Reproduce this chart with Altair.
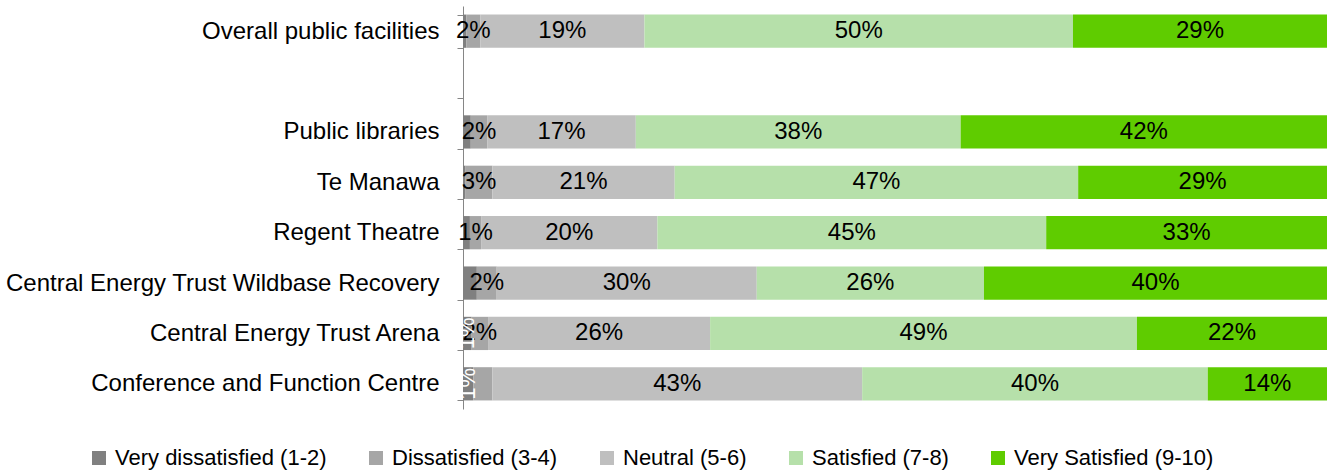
import altair as alt
import pandas as pd

categories = [
    "Overall public facilities",
    " ",
    "Public libraries",
    "Te Manawa",
    "Regent Theatre",
    "Central Energy Trust Wildbase Recovery",
    "Central Energy Trust Arena",
    "Conference and Function Centre",
]
series = [
    "Very dissatisfied (1-2)",
    "Dissatisfied (3-4)",
    "Neutral (5-6)",
    "Satisfied (7-8)",
    "Very Satisfied (9-10)",
]
colors = ["#808080", "#a6a6a6", "#bfbfbf", "#b6e0aa", "#5fcc00"]

# values per category (None = spacer row)
very_dissatisfied = [0.4, None, 0.9, 0.3, 0.8, 1.6, 1.0, 1.2]
dissatisfied = [1.6, None, 1.9, 3.1, 1.3, 2.3, 1.9, 2.2]
neutral = [19.0, None, 17.2, 21.1, 20.4, 30.1, 25.7, 42.8]
satisfied = [49.6, None, 37.6, 46.7, 45.0, 26.3, 49.4, 40.0]
very_satisfied = [29.4, None, 42.4, 28.8, 32.5, 39.7, 22.0, 13.8]

# data labels as shown on the chart
vd_labels = ["", "", "", "", "", "", "1%", "1%"]          # drawn rotated, white
diss_labels = ["2%", "", "2%", "3%", "1%", "2%", "2%", ""]
neutral_labels = ["19%", "", "17%", "21%", "20%", "30%", "26%", "43%"]
sat_labels = ["50%", "", "38%", "47%", "45%", "26%", "49%", "40%"]
vs_labels = ["29%", "", "42%", "29%", "33%", "40%", "22%", "14%"]

rows = []
all_vals = [very_dissatisfied, dissatisfied, neutral, satisfied, very_satisfied]
all_labels = [vd_labels, diss_labels, neutral_labels, sat_labels, vs_labels]
for i, cat in enumerate(categories):
    for j, s in enumerate(series):
        v = all_vals[j][i]
        if v is None:
            continue
        rows.append({
            "category": cat,
            "series": s,
            "order": j,
            "value": v,
            "label": all_labels[j][i],
            "rotated": j == 0,
        })
df = pd.DataFrame(rows)

FONT = "Liberation Sans"

base = alt.Chart(df).transform_stack(
    stack="value",
    groupby=["category"],
    as_=["x0", "x1"],
    sort=[alt.SortField("order", order="ascending")],
).transform_calculate(mid="(datum.x0 + datum.x1) / 2")

yenc = alt.Y(
    "category:N",
    scale=alt.Scale(domain=categories, paddingInner=0.34, paddingOuter=0.17),
    axis=alt.Axis(
        title=None,
        tickBand="extent",
        domainColor="#868686",
        tickColor="#868686",
        tickSize=6,
        labelFontSize=24,
        labelFont=FONT,
        labelColor="#000000",
        labelPadding=18,
        labelLimit=600,
    ),
)
xscale = alt.Scale(domain=[0, 100], nice=False, zero=True)

bars = base.mark_bar(stroke=None).encode(
    y=yenc,
    x=alt.X("x0:Q", scale=xscale, axis=None),
    x2="x1:Q",
    color=alt.Color(
        "series:N",
        scale=alt.Scale(domain=series, range=colors),
        legend=alt.Legend(
            title=None,
            orient="none",
            direction="horizontal",
            legendX=-375,
            legendY=441,
            symbolType="square",
            symbolSize=196,
            symbolStrokeWidth=0,
            labelFontSize=22,
            labelFont=FONT,
            labelColor="#000000",
            labelLimit=400,
            columnPadding=38,
            symbolOffset=0,
            labelOffset=5,
        ),
    ),
)

labels = base.transform_filter(
    "datum.label != '' && !datum.rotated"
).mark_text(fontSize=24, font=FONT, color="#000000").encode(
    y=alt.Y("category:N", scale=alt.Scale(domain=categories)),
    x=alt.X("mid:Q", scale=xscale),
    text="label:N",
)

rot_labels = base.transform_filter(
    "datum.label != '' && datum.rotated"
).mark_text(fontSize=22, font=FONT, color="#ffffff", angle=270).encode(
    y=alt.Y("category:N", scale=alt.Scale(domain=categories)),
    x=alt.X("mid:Q", scale=xscale),
    text="label:N",
)

chart = alt.layer(bars, labels, rot_labels).properties(
    width=864,
    height=403,
    autosize=alt.AutoSizeParams(type="none"),
    padding={"left": 463, "top": 6, "right": 3, "bottom": 64},
    background="#ffffff",
).configure_view(stroke=None)

chart.save("out.html", embed_options={"renderer": "svg", "actions": False})
